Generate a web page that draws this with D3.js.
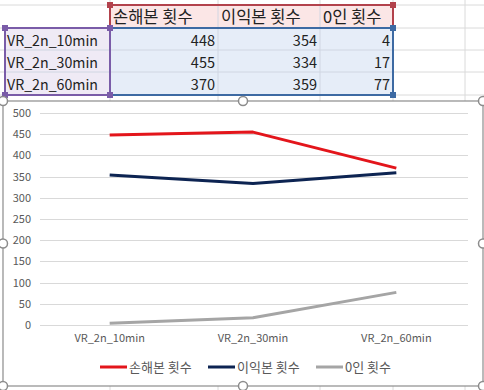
<!DOCTYPE html>
<html>
<head>
<meta charset="utf-8">
<script src="https://cdn.jsdelivr.net/npm/d3@7"></script>
<style>
  body { margin: 0; background: #fff; }
  text { font-family: "Noto Sans CJK KR", "Noto Sans", sans-serif; }
</style>
</head>
<body>
<div id="chart"></div>
<script>
// data, read from the sheet
var categories = ["VR_2n_10min", "VR_2n_30min", "VR_2n_60min"];
var seriesNames = ["손해본 횟수", "이익본 횟수", "0인 횟수"];
var lossCounts = [448, 455, 370];
var gainCounts = [354, 334, 359];
var zeroCounts = [4, 17, 77];
var yTicks = [0, 50, 100, 150, 200, 250, 300, 350, 400, 450, 500];

var seriesValues = [lossCounts, gainCounts, zeroCounts];
var colors = ["#e3151b", "#0d2452", "#a5a5a5"];

var W = 484, H = 390;
var svg = d3.select("#chart").append("svg")
    .attr("width", W)
    .attr("height", H);

// ---- spreadsheet behind ----
var colEdges = [5, 110, 218, 320, 393];
var rowEdges = [5, 28, 50, 72, 95];

var sheet = svg.append("g");
[110, 218, 320, 393, 465].forEach(function(x) {
  sheet.append("line").attr("x1", x).attr("x2", x).attr("y1", 0).attr("y2", H)
    .attr("stroke", "#dadada");
});
rowEdges.forEach(function(y) {
  sheet.append("line").attr("x1", 0).attr("x2", W).attr("y1", y).attr("y2", y)
    .attr("stroke", "#dadada");
});

// cell fills
sheet.append("rect").attr("x", colEdges[1]).attr("y", rowEdges[0])
  .attr("width", colEdges[4] - colEdges[1]).attr("height", rowEdges[1] - rowEdges[0])
  .attr("fill", "#fbe6e6");
sheet.append("rect").attr("x", colEdges[0]).attr("y", rowEdges[1])
  .attr("width", colEdges[1] - colEdges[0]).attr("height", rowEdges[4] - rowEdges[1])
  .attr("fill", "#efeaf5");
sheet.append("rect").attr("x", colEdges[1]).attr("y", rowEdges[1])
  .attr("width", colEdges[4] - colEdges[1]).attr("height", rowEdges[4] - rowEdges[1])
  .attr("fill", "#e6edf8");
// inner cell lines
[218, 320].forEach(function(x) {
  sheet.append("line").attr("x1", x).attr("x2", x).attr("y1", rowEdges[0]).attr("y2", rowEdges[4])
    .attr("stroke", "#d0d6e2");
});
[50, 72].forEach(function(y) {
  sheet.append("line").attr("x1", colEdges[0]).attr("x2", colEdges[4]).attr("y1", y).attr("y2", y)
    .attr("stroke", "#d0d6e2");
});

// header + values
seriesNames.forEach(function(n, i) {
  sheet.append("text").attr("x", colEdges[i + 1] + 3).attr("y", 23)
    .attr("font-size", "16.5px").attr("fill", "#222").text(n);
});
categories.forEach(function(c, r) {
  sheet.append("text").attr("x", 7).attr("y", rowEdges[r + 1] + 18)
    .attr("font-size", "14.2px").attr("fill", "#222").text(c);
  seriesValues.forEach(function(vals, i) {
    sheet.append("text").attr("x", colEdges[i + 2] - 3).attr("y", rowEdges[r + 1] + 18)
      .attr("text-anchor", "end")
      .attr("font-size", "14.5px").attr("fill", "#222").text(vals[r]);
  });
});

// selection borders
function selBox(x0, y0, x1, y1, col) {
  sheet.append("rect").attr("x", x0).attr("y", y0).attr("width", x1 - x0).attr("height", y1 - y0)
    .attr("fill", "none").attr("stroke", col).attr("stroke-width", 2);
  [[x0, y0], [x1, y0], [x0, y1], [x1, y1]].forEach(function(p) {
    sheet.append("rect").attr("x", p[0] - 3).attr("y", p[1] - 3).attr("width", 6).attr("height", 6)
      .attr("fill", col);
  });
}
selBox(colEdges[1], rowEdges[0], colEdges[4], rowEdges[1], "#b2424c");
selBox(colEdges[1], rowEdges[1], colEdges[4], rowEdges[4], "#3d6aa3");
selBox(colEdges[0], rowEdges[1], colEdges[1], rowEdges[4], "#7a5ca8");

// ---- chart object ----
var box = {x0: 3, y0: 101, x1: 483, y1: 386};
var chart = svg.append("g");
chart.append("rect").attr("x", box.x0).attr("y", box.y0)
  .attr("width", box.x1 - box.x0).attr("height", box.y1 - box.y0)
  .attr("fill", "#fff").attr("stroke", "#8c8c8c").attr("stroke-width", 1.2);

var x = d3.scaleBand().domain(categories).range([38, 468]);
var y = d3.scaleLinear().domain([0, 500]).range([325, 113]);

// gridlines
chart.append("g")
  .selectAll("line")
  .data(yTicks)
  .enter()
  .append("line")
    .attr("x1", 40).attr("x2", 468)
    .attr("y1", function(d) { return Math.round(y(d)) + 0.5; })
    .attr("y2", function(d) { return Math.round(y(d)) + 0.5; })
    .attr("stroke", "#d9d9d9");

// y axis labels
var yAxis = chart.append("g")
  .attr("transform", "translate(36,0)")
  .call(d3.axisLeft(y).tickValues(yTicks).tickSize(0).tickPadding(5));
yAxis.select(".domain").remove();
yAxis.selectAll("text").attr("font-size", "11px").attr("fill", "#595959")
  .attr("font-family", "\"Noto Sans CJK KR\", sans-serif");

// x axis labels
var xAxis = chart.append("g")
  .attr("transform", "translate(0,325)")
  .call(d3.axisBottom(x).tickSize(0).tickPadding(9));
xAxis.select(".domain").remove();
xAxis.selectAll("text").attr("font-size", "11px").attr("fill", "#595959")
  .attr("font-family", "\"Noto Sans CJK KR\", sans-serif");

// lines
var line = d3.line()
  .x(function(d, i) { return x(categories[i]) + x.bandwidth() / 2; })
  .y(function(d) { return y(d); });

chart.selectAll("path.series")
  .data(seriesValues)
  .enter()
  .append("path")
    .attr("class", "series")
    .attr("d", line)
    .attr("fill", "none")
    .attr("stroke", function(d, i) { return colors[i]; })
    .attr("stroke-width", 3)
    .attr("stroke-linejoin", "round");

// legend
var legendX = [100, 208, 316];
seriesNames.forEach(function(n, i) {
  var g = chart.append("g").attr("transform", "translate(" + legendX[i] + ",367)");
  g.append("line").attr("x1", 0).attr("x2", 27).attr("y1", 0).attr("y2", 0)
    .attr("stroke", colors[i]).attr("stroke-width", 3);
  g.append("text").attr("x", 29).attr("y", 4.5).attr("font-size", "13px")
    .attr("fill", "#595959").text(n);
});

// resize handles
var handles = [
  [box.x0, box.y0], [(box.x0 + box.x1) / 2, box.y0], [box.x1, box.y0],
  [box.x0, (box.y0 + box.y1) / 2], [box.x1, (box.y0 + box.y1) / 2],
  [box.x0, box.y1], [(box.x0 + box.x1) / 2, box.y1], [box.x1, box.y1]
];
chart.selectAll("circle.handle")
  .data(handles)
  .enter()
  .append("circle")
    .attr("class", "handle")
    .attr("cx", function(d) { return d[0]; })
    .attr("cy", function(d) { return d[1]; })
    .attr("r", 4.5)
    .attr("fill", "#fff")
    .attr("stroke", "#8c8c8c")
    .attr("stroke-width", 1.5);
</script>
</body>
</html>
